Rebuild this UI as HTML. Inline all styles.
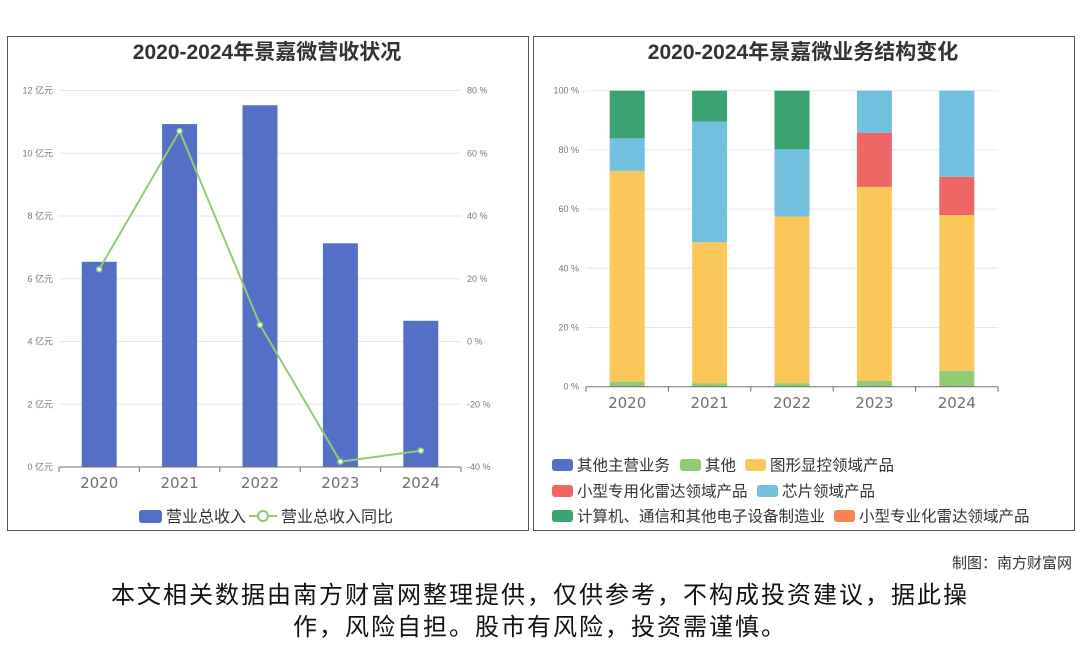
<!DOCTYPE html>
<html><head><meta charset="utf-8"><style>
body{margin:0;width:1080px;height:646px;background:#fff;font-family:"Liberation Sans","Noto Sans CJK SC",sans-serif;overflow:hidden;position:relative}
.panel{position:absolute;border:1px solid #555;background:#fff}
.t{position:absolute;white-space:nowrap}
</style></head><body>
<div class="panel" style="left:7px;top:36px;width:520px;height:493px"></div>
<div class="panel" style="left:533px;top:36px;width:540px;height:493px"></div>
<svg id="svg" width="1080" height="646" style="position:absolute;left:0;top:0"></svg>
<div class="t" style="right:8px;top:552px;font-size:15px;color:#333">制图：南方财富网</div>
<div class="t" style="left:0;width:1080px;top:580px;font-size:24px;line-height:32px;letter-spacing:2px;color:#111;text-align:center;white-space:normal">本文相关数据由南方财富网整理提供，仅供参考，不构成投资建议，据此操<br>作，风险自担。股市有风险，投资需谨慎。</div>
<script>
const years=['2020','2021','2022','2023','2024'];
const revenue=[6.54,10.93,11.53,7.13,4.66];
const growth=[23.0,67.1,5.3,-38.3,-34.8];
const leftTicks=[0,2,4,6,8,10,12];
const rightTicks=[-40,-20,0,20,40,60,80];
const segNames=['其他主营业务','其他','图形显控领域产品','小型专用化雷达领域产品','芯片领域产品','计算机、通信和其他电子设备制造业','小型专业化雷达领域产品'];
const segOther=[0,0,0,0,0];
const segMisc=[1.7,1.2,1.2,2.0,5.4];
const segDisplay=[71.2,47.6,56.3,65.5,52.6];
const segRadar=[0,0,0,18.3,12.9];
const segChip=[11.0,40.8,22.7,14.2,29.1];
const segComputer=[16.1,10.4,19.8,0,0];
const segRadar2=[0,0,0,0,0];
const pctTicks=[0,20,40,60,80,100];

const svg=document.getElementById('svg');const NS='http://www.w3.org/2000/svg';
function el(tag,attrs,text){const e=document.createElementNS(NS,tag);for(const k in attrs)e.setAttribute(k,attrs[k]);if(text!==undefined)e.textContent=text;svg.appendChild(e);return e;}
const F='Liberation Sans, Noto Sans CJK SC, sans-serif';
const FX='DejaVu Sans, sans-serif';

let e=el('text',{x:267,y:59,'text-anchor':'middle','font-size':21,'font-weight':'bold',fill:'#333','font-family':F},'2020-2024年景嘉微营收状况');

e=el('text',{x:803,y:59,'text-anchor':'middle','font-size':21,'font-weight':'bold',fill:'#333','font-family':F},'2020-2024年景嘉微业务结构变化');


const L={x0:59,x1:461,y0:467,y1:90.5};
const yL=v=>L.y0-(v-0)/12*(L.y0-L.y1);
const yR=v=>L.y0-(v+40)/120*(L.y0-L.y1);
const bwL=(L.x1-L.x0)/years.length;
const xL=i=>L.x0+bwL*(i+0.5);
leftTicks.forEach(t=>{
  if(t>0){e=el('line',{x1:L.x0,x2:L.x1,y1:yL(t),y2:yL(t),stroke:'#e3e6f0'});}
  e=el('text',{x:53,y:yL(t)+3,'text-anchor':'end','font-size':9,fill:'#777','font-family':F},t+' 亿元');
  
});
rightTicks.forEach(t=>{
  e=el('text',{x:467,y:yR(t)+3,'font-size':9,fill:'#777','font-family':F},t+' %');
  
});
revenue.forEach((v,i)=>{
  e=el('rect',{x:xL(i)-17.5,y:yL(v),width:35,height:L.y0-yL(v),fill:'#5470c6'});
  
});
e=el('line',{x1:L.x0,x2:L.x1,y1:L.y0,y2:L.y0,stroke:'#6e7079'});
for(let i=0;i<=years.length;i++){e=el('line',{x1:L.x0+bwL*i,x2:L.x0+bwL*i,y1:L.y0,y2:L.y0+5,stroke:'#6e7079'});}
years.forEach((y,i)=>{e=el('text',{x:xL(i),y:488,'text-anchor':'middle','font-size':15,fill:'#6e7079','font-family':FX},y);});
e=el('polyline',{points:growth.map((v,i)=>xL(i)+','+yR(v)).join(' '),fill:'none',stroke:'#91cc75','stroke-width':2});

growth.forEach((v,i)=>{e=el('circle',{cx:xL(i),cy:yR(v),r:2.5,fill:'#fff',stroke:'#91cc75','stroke-width':1.5});});
e=el('rect',{x:139,y:510,width:23,height:13,rx:3,fill:'#5470c6'});
e=el('text',{x:166,y:522,'font-size':16,fill:'#333','font-family':F},'营业总收入');
e=el('line',{x1:249,x2:277,y1:516,y2:516,stroke:'#91cc75','stroke-width':2});
e=el('circle',{cx:263,cy:516,r:5,fill:'#fff',stroke:'#91cc75','stroke-width':2});
e=el('text',{x:281,y:522,'font-size':16,fill:'#333','font-family':F},'营业总收入同比');

const R={x0:586,x1:998,y0:386.7,y1:90.7};
const yP=v=>R.y0-v/100*(R.y0-R.y1);
const bwR=(R.x1-R.x0)/years.length;
const xR=i=>R.x0+bwR*(i+0.5);
pctTicks.forEach(t=>{
  if(t>0){e=el('line',{x1:R.x0,x2:R.x1,y1:yP(t),y2:yP(t),stroke:'#e3e6f0'});}
  e=el('text',{x:579,y:yP(t)+3,'text-anchor':'end','font-size':9,fill:'#777','font-family':F},t+' %');
  
});
const series=[segOther,segMisc,segDisplay,segRadar,segChip,segComputer,segRadar2];
const colors=['#5470c6','#91cc75','#fac858','#ee6666','#73c0de','#3ba272','#fc8452'];
years.forEach((y,i)=>{
  let acc=0;
  series.forEach((s,k)=>{
    const v=s[i];if(v<=0)return;
    e=el('rect',{x:xR(i)-17.5,y:yP(acc+v),width:35,height:yP(acc)-yP(acc+v),fill:colors[k]});
    
    acc+=v;
  });
});
e=el('line',{x1:R.x0,x2:R.x1,y1:R.y0,y2:R.y0,stroke:'#6e7079'});
for(let i=0;i<=years.length;i++){e=el('line',{x1:R.x0+bwR*i,x2:R.x0+bwR*i,y1:R.y0,y2:R.y0+5,stroke:'#6e7079'});}
years.forEach((y,i)=>{e=el('text',{x:xR(i),y:408,'text-anchor':'middle','font-size':15,fill:'#6e7079','font-family':FX},y);});
const legPos=[[552,465],[680,465],[745,465],[552,491],[757,491],[552,516],[834,516]];
segNames.forEach((n,k)=>{
  const [lx,ly]=legPos[k];
  e=el('rect',{x:lx,y:ly-6,width:21,height:12,rx:3,fill:colors[k]});
  e=el('text',{x:lx+25,y:ly+5.5,'font-size':15.5,fill:'#333','font-family':F},n);
});
</script>
</body></html>
